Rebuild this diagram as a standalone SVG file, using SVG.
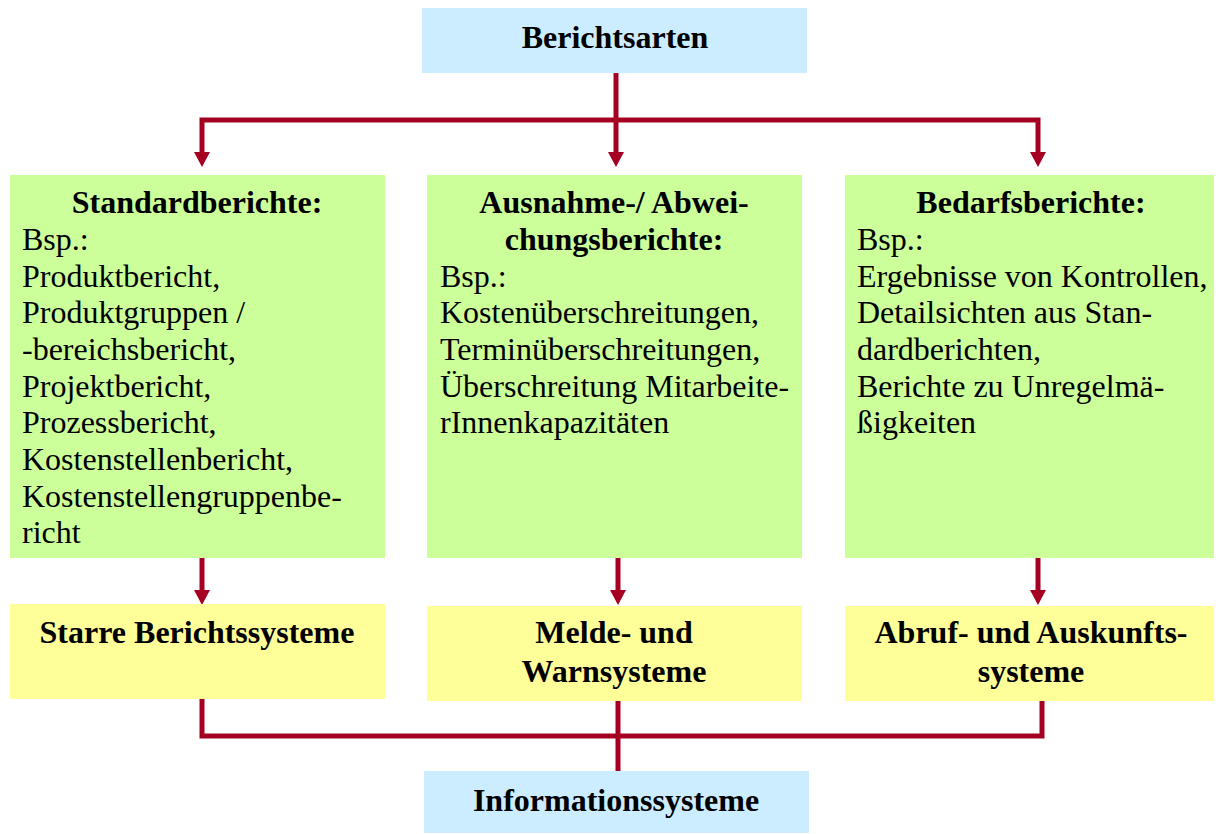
<svg xmlns="http://www.w3.org/2000/svg" width="1216" height="834" viewBox="0 0 1216 834">
<defs>
<style>
.blue{fill:#CCECFF}
.green{fill:#CCFF99}
.yellow{fill:#FFFF99}
.t{font-family:"Liberation Serif","Times New Roman",serif;font-size:32px;fill:#000}
.b{font-weight:bold}
.c{text-anchor:middle}
.ln{fill:none;stroke:#A50021;stroke-width:5}
.ah{fill:#A50021}
</style>
</defs>
<rect width="1216" height="834" fill="#fff"/>
<g id="connectors">
<path class="ln" d="M616,73 V152"/>
<path class="ln" d="M202,152 V120 H1038 V152"/>
<path class="ah" d="M194,152 H210 L202,167 Z M608,152 H624 L616,167 Z M1030,152 H1046 L1038,167 Z"/>
<path class="ln" d="M202,558 V591"/>
<path class="ln" d="M618,558 V591"/>
<path class="ln" d="M1038,558 V591"/>
<path class="ah" d="M194,590 H210 L202,605 Z M610,590 H626 L618,605 Z M1030,590 H1046 L1038,605 Z"/>
<path class="ln" d="M202,699 V736 H1042 V701"/>
<path class="ln" d="M618,701 V771"/>
</g>
<g id="berichtsarten">
<rect class="blue" x="422" y="8" width="385" height="65"/>
<text class="t b c" x="615" y="48">Berichtsarten</text>
</g>
<g id="standardberichte">
<rect class="green" x="10" y="175" width="375" height="383"/>
<text class="t b c" x="197" y="213">Standardberichte:</text>
<text class="t" x="22" y="250">Bsp.:</text>
<text class="t" x="22" y="287">Produktbericht,</text>
<text class="t" x="22" y="323">Produktgruppen /</text>
<text class="t" x="22" y="360">-bereichsbericht,</text>
<text class="t" x="22" y="397">Projektbericht,</text>
<text class="t" x="22" y="433">Prozessbericht,</text>
<text class="t" x="22" y="470">Kostenstellenbericht,</text>
<text class="t" x="22" y="507">Kostenstellengruppenbe-</text>
<text class="t" x="22" y="543">richt</text>
</g>
<g id="ausnahmeberichte">
<rect class="green" x="427" y="175" width="375" height="383"/>
<text class="t b c" x="614" y="213">Ausnahme-/ Abwei-</text>
<text class="t b c" x="614" y="250">chungsberichte:</text>
<text class="t" x="440" y="287">Bsp.:</text>
<text class="t" x="440" y="323">Kostenüberschreitungen,</text>
<text class="t" x="440" y="360">Terminüberschreitungen,</text>
<text class="t" x="440" y="397">Überschreitung Mitarbeite-</text>
<text class="t" x="440" y="433">rInnenkapazitäten</text>
</g>
<g id="bedarfsberichte">
<rect class="green" x="845" y="175" width="369" height="383"/>
<text class="t b c" x="1031" y="213">Bedarfsberichte:</text>
<text class="t" x="857" y="250">Bsp.:</text>
<text class="t" x="857" y="287">Ergebnisse von Kontrollen,</text>
<text class="t" x="857" y="323">Detailsichten aus Stan-</text>
<text class="t" x="857" y="360">dardberichten,</text>
<text class="t" x="857" y="397">Berichte zu Unregelmä-</text>
<text class="t" x="857" y="433">ßigkeiten</text>
</g>
<g id="starre">
<rect class="yellow" x="10" y="604" width="375" height="95"/>
<text class="t b c" x="197" y="643">Starre Berichtssysteme</text>
</g>
<g id="melde">
<rect class="yellow" x="427" y="606" width="375" height="95"/>
<text class="t b c" x="614" y="643">Melde- und</text>
<text class="t b c" x="614" y="682">Warnsysteme</text>
</g>
<g id="abruf">
<rect class="yellow" x="845" y="606" width="369" height="95"/>
<text class="t b c" x="1031" y="643">Abruf- und Auskunfts-</text>
<text class="t b c" x="1031" y="682">systeme</text>
</g>
<g id="informationssysteme">
<rect class="blue" x="424" y="771" width="385" height="62"/>
<text class="t b c" x="616" y="811">Informationssysteme</text>
</g>
</svg>
